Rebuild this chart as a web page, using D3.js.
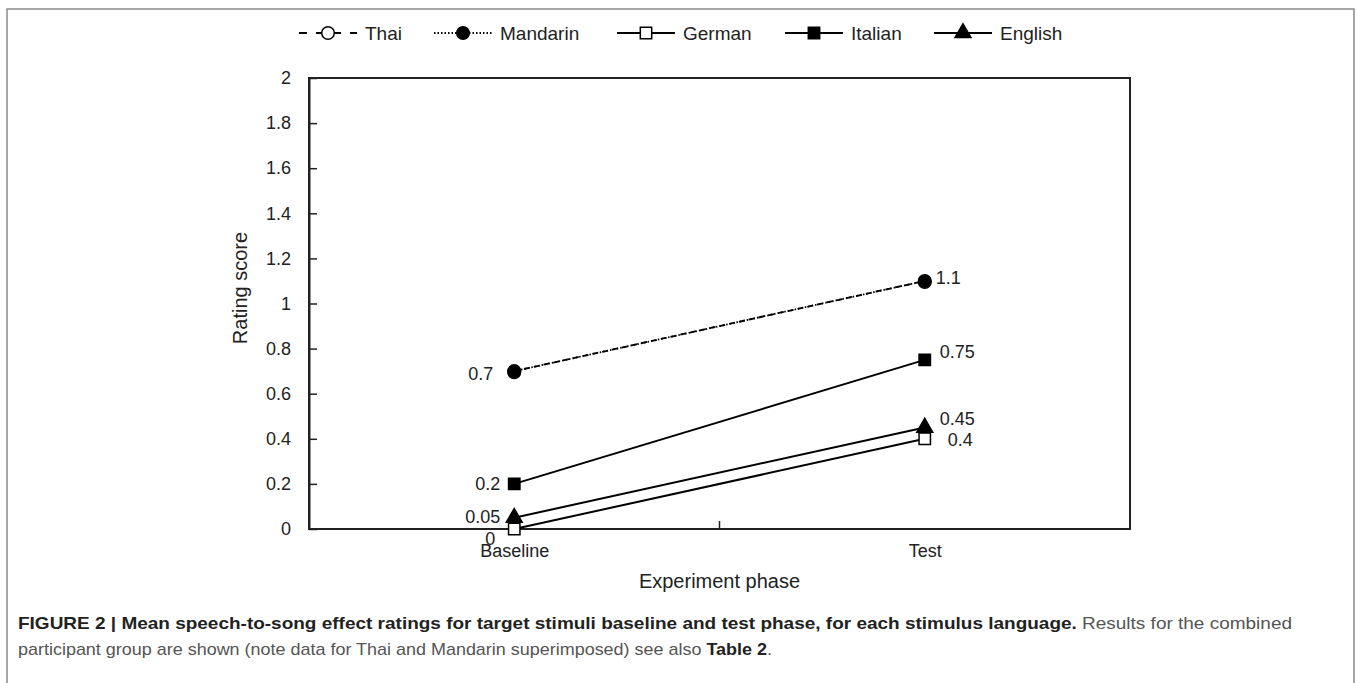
<!DOCTYPE html>
<html>
<head>
<meta charset="utf-8">
<script src="https://cdn.jsdelivr.net/npm/d3@7"></script>
<style>
  body { margin: 0; background: #fff; }
  svg { display: block; }
  .chart text { font-family: "Liberation Sans", Arial, sans-serif; fill: #222; }
  .cap { font-family: "Liberation Sans", sans-serif; font-size: 17px; }
</style>
</head>
<body>
<svg class="chart"></svg>
<script>
// values
var phases = ["Baseline", "Test"];
var languages = ["Thai", "Mandarin", "German", "Italian", "English"];
var thai = [0.7, 1.1];
var mandarin = [0.7, 1.1];
var german = [0, 0.4];
var italian = [0.2, 0.75];
var english = [0.05, 0.45];
var yTicks = [0, 0.2, 0.4, 0.6, 0.8, 1, 1.2, 1.4, 1.6, 1.8, 2];

var width = 1357;
var height = 683;
var svg = d3.select(".chart").attr("width", width).attr("height", height);

// outer figure frame
svg.append("rect")
  .attr("x", 7).attr("y", 9)
  .attr("width", 1347).attr("height", 700)
  .attr("fill", "none").attr("stroke", "#8a8a8a").attr("stroke-width", 1.5);

var plotLeft = 309, plotRight = 1130, plotTop = 78, plotBottom = 529;

var x = d3.scaleBand().domain(phases).range([plotLeft, plotRight]);
var cx = function(p) { return x(p) + x.bandwidth() / 2; };
var y = d3.scaleLinear().domain([0, 2]).range([plotBottom, plotTop]);

// plot box
svg.append("rect")
  .attr("x", plotLeft).attr("y", plotTop)
  .attr("width", plotRight - plotLeft).attr("height", plotBottom - plotTop)
  .attr("fill", "none").attr("stroke", "#222").attr("stroke-width", 2);

// y axis, ticks inside
var yAxis = d3.axisLeft(y)
  .tickValues(yTicks)
  .tickSizeInner(-8).tickSizeOuter(0)
  .tickPadding(18)
  .tickFormat(function(d) { return String(+d.toFixed(1)); });

var gy = svg.append("g")
  .attr("transform", "translate(" + plotLeft + ",0)")
  .call(yAxis);
gy.select(".domain").attr("stroke", "#222").attr("stroke-width", 2);
gy.selectAll(".tick line").attr("stroke", "#222").attr("stroke-width", 1.5);
gy.selectAll("text").style("font-size", "18px").attr("fill", "#222");

// x axis: labels at centres, one tick between the phases
var xp = d3.scalePoint().domain(phases).range([cx(phases[0]), cx(phases[1])]);
var gx = svg.append("g")
  .attr("transform", "translate(0," + plotBottom + ")")
  .call(d3.axisBottom(xp).tickSize(0).tickPadding(15));
gx.select(".domain").remove();
gx.selectAll("text").style("font-size", "18px").attr("fill", "#222");
svg.append("line")
  .attr("x1", x(phases[1])).attr("x2", x(phases[1]))
  .attr("y1", plotBottom).attr("y2", plotBottom - 8)
  .attr("stroke", "#222").attr("stroke-width", 1.5);

// axis titles
svg.append("text")
  .attr("x", (plotLeft + plotRight) / 2).attr("y", 588)
  .attr("text-anchor", "middle")
  .style("font-size", "20px")
  .text("Experiment phase");

svg.append("text")
  .attr("transform", "rotate(-90)")
  .attr("x", -288).attr("y", 247)
  .attr("text-anchor", "middle")
  .style("font-size", "20px")
  .text("Rating score");

// series
var series = [
  {name: "Thai", values: thai, dash: "6,4", shape: "circle", fill: "#fff"},
  {name: "Mandarin", values: mandarin, dash: "1.5,2", shape: "circle", fill: "#000"},
  {name: "German", values: german, dash: null, shape: "square", fill: "#fff"},
  {name: "Italian", values: italian, dash: null, shape: "square", fill: "#000"},
  {name: "English", values: english, dash: null, shape: "triangle", fill: "#000"}
];

var symbolFor = function(shape) {
  if (shape == "circle") return d3.symbol().type(d3.symbolCircle).size(125)();
  if (shape == "square") return d3.symbol().type(d3.symbolSquare).size(130)();
  return d3.symbol().type(d3.symbolTriangle).size(110)();
};

var line = d3.line()
  .x(function(d, i) { return cx(phases[i]); })
  .y(function(d) { return y(d); });

series.forEach(function(s) {
  svg.append("path")
    .attr("d", line(s.values))
    .attr("fill", "none")
    .attr("stroke", "#000")
    .attr("stroke-width", s.dash ? 1.8 : 2)
    .attr("stroke-dasharray", s.dash);
});

series.forEach(function(s) {
  s.values.forEach(function(v, i) {
    var dy = s.name == "Thai" ? 1 : 0;
    svg.append("path")
      .attr("d", symbolFor(s.shape))
      .attr("transform", "translate(" + cx(phases[i]) + "," + (y(v) + dy) + ")")
      .attr("fill", s.fill)
      .attr("stroke", "#000")
      .attr("stroke-width", 1.5);
  });
});

// data labels (Thai hidden under Mandarin)
var labelOffsets = {
  Mandarin: [[-21, 3, "end"], [11, -3, "start"]],
  German: [[-19, 10, "end"], [23, 1, "start"]],
  Italian: [[-14, 0, "end"], [15, -8, "start"]],
  English: [[-14, -1, "end"], [15, -9, "start"]]
};
series.forEach(function(s) {
  var off = labelOffsets[s.name];
  if (!off) return;
  s.values.forEach(function(v, i) {
    svg.append("text")
      .attr("x", cx(phases[i]) + off[i][0])
      .attr("y", y(v) + off[i][1])
      .attr("dy", "0.35em")
      .attr("text-anchor", off[i][2])
      .style("font-size", "18px")
      .text(String(v));
  });
});

// legend
var legendX = [299, 434, 617, 785, 934];
var legendY = 33;
series.forEach(function(s, i) {
  var g = svg.append("g").attr("transform", "translate(" + legendX[i] + "," + legendY + ")");
  g.append("line")
    .attr("x1", 0).attr("x2", 58)
    .attr("stroke", "#000").attr("stroke-width", 2)
    .attr("stroke-dasharray", s.name == "Thai" ? "8,9" : s.dash);
  g.append("path")
    .attr("d", symbolFor(s.shape))
    .attr("transform", "translate(29,0)")
    .attr("fill", s.fill).attr("stroke", "#000").attr("stroke-width", 1.5);
  g.append("text")
    .attr("x", 66).attr("dy", "0.35em")
    .style("font-size", "19px")
    .text(s.name);
});

// caption
var cap = svg.append("text").attr("class", "cap").attr("x", 18).attr("y", 629)
  .attr("textLength", 1274).attr("lengthAdjust", "spacingAndGlyphs");
cap.append("tspan").attr("font-weight", "bold").attr("fill", "#222")
  .text("FIGURE 2 | Mean speech-to-song effect ratings for target stimuli baseline and test phase, for each stimulus language.");
cap.append("tspan").attr("fill", "#555").text(" Results for the combined");
var cap2 = svg.append("text").attr("class", "cap").attr("x", 18).attr("y", 655)
  .attr("textLength", 754).attr("lengthAdjust", "spacingAndGlyphs");
cap2.append("tspan").attr("fill", "#555")
  .text("participant group are shown (note data for Thai and Mandarin superimposed) see also ");
cap2.append("tspan").attr("font-weight", "bold").attr("fill", "#222").text("Table 2");
cap2.append("tspan").attr("fill", "#555").text(".");
</script>
</body>
</html>
